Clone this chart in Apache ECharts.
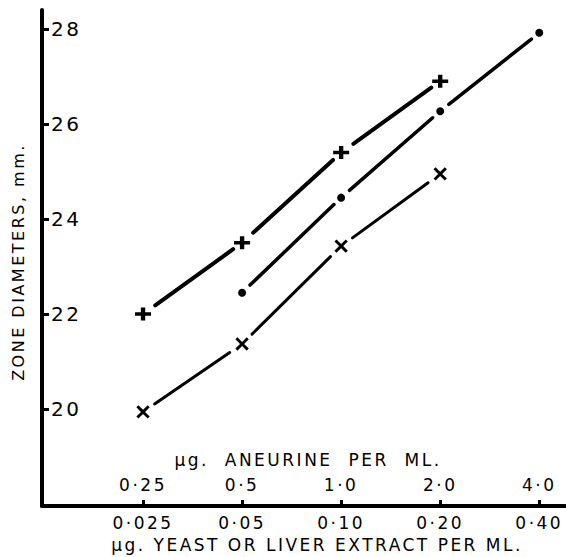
<!DOCTYPE html>
<html>
<head>
<meta charset="utf-8">
<script src="https://cdn.jsdelivr.net/npm/echarts@6/dist/echarts.min.js"></script>
<style>
  html, body { margin: 0; padding: 0; background: #fff; }
  #chart { width: 566px; height: 557px; }
  #chart svg text { letter-spacing: 2.5px; }
</style>
</head>
<body>
<div id="chart"></div>
<script>
// ---- data ----
const doseIndex = [0, 1, 2, 3, 4];
const yeastLabels = ['0·025', '0·05', '0·10', '0·20', '0·40'];
const aneurineLabels = ['0·25', '0·5', '1·0', '2·0', '4·0'];
const yTicks = [20, 22, 24, 26, 28];

const plusX = [0, 1, 2, 3];
const plusY = [22.0, 23.5, 25.4, 26.9];
const dotX = [1, 2, 3, 4];
const dotY = [22.45, 24.45, 26.27, 27.92];
const crossX = [0, 1, 2, 3];
const crossY = [19.94, 21.37, 23.43, 24.95];

const yName = 'ZONE DIAMETERS, mm.';
const xTopName = 'μg.  ANEURINE  PER  ML.';
const xBottomName = 'μg. YEAST OR LIVER EXTRACT PER ML.';

// ---- chart ----
const FONT = 'DejaVu Sans';
const pairs = (xs, ys) => xs.map((x, i) => [x, ys[i]]);
const plusPath = 'path://M4,0H7V4H11V7H7V11H4V7H0V4H4Z';
const thinPlusPath = 'path://M4.5,0H6.5V4.5H11V6.5H6.5V11H4.5V6.5H0V4.5H4.5Z';

// line drawn as segments between consecutive points, broken short of each marker
function brokenLine(xs, ys, lineWidth, gapStart, gapEnd) {
  return {
    type: 'custom', data: pairs(xs, ys), z: 2, silent: true,
    renderItem: function (params, api) {
      const i = params.dataIndex;
      if (i === 0) return null;
      const a = api.coord([xs[i - 1], ys[i - 1]]);
      const b = api.coord([api.value(0), api.value(1)]);
      const dx = b[0] - a[0], dy = b[1] - a[1];
      const len = Math.sqrt(dx * dx + dy * dy);
      const ux = dx / len, uy = dy / len;
      return {
        type: 'line',
        shape: { x1: a[0] + ux * gapStart, y1: a[1] + uy * gapStart,
                 x2: b[0] - ux * gapEnd, y2: b[1] - uy * gapEnd },
        style: { stroke: '#000', lineWidth: lineWidth, lineCap: 'round' }
      };
    }
  };
}

function markers(xs, ys, symbol, symbolSize, symbolRotate) {
  return { type: 'scatter', data: pairs(xs, ys), symbol: symbol, symbolSize: symbolSize,
    symbolRotate: symbolRotate || 0, z: 4, itemStyle: { color: '#000', opacity: 1 } };
}

const chart = echarts.init(document.getElementById('chart'), null, { renderer: 'svg' });
chart.setOption({
  animation: false,
  backgroundColor: '#fff',
  grid: { left: 42, right: 1, top: 10, bottom: 51, containLabel: false },
  xAxis: [
    {
      type: 'value', min: -1.02, max: 4.26, position: 'bottom',
      splitLine: { show: false },
      axisLine: { show: true, onZero: false, lineStyle: { color: '#000', width: 4 } },
      axisTick: { show: true, inside: true, length: 6, customValues: doseIndex,
        lineStyle: { color: '#000', width: 3 } },
      axisLabel: { customValues: doseIndex, margin: 8, fontSize: 17, fontFamily: FONT, color: '#000',
        formatter: v => yeastLabels[Math.round(v)] }
    },
    {
      type: 'value', min: -1.02, max: 4.26, position: 'bottom',
      splitLine: { show: false },
      axisLine: { show: false, onZero: false },
      axisTick: { show: false },
      axisLabel: { inside: true, customValues: doseIndex, margin: 13, fontSize: 17, fontFamily: FONT, color: '#000',
        formatter: v => aneurineLabels[Math.round(v)] }
    }
  ],
  yAxis: {
    type: 'value', min: 17.96, max: 28.4, position: 'left',
    splitLine: { show: false },
    axisLine: { show: true, onZero: false, lineStyle: { color: '#000', width: 4 } },
    axisTick: { show: true, inside: true, length: 7, customValues: yTicks,
      lineStyle: { color: '#000', width: 3 } },
    axisLabel: { inside: true, customValues: yTicks, margin: 9, fontSize: 20, fontFamily: FONT, color: '#000' }
  },
  graphic: [
    { type: 'text', x: 18, y: 262, rotation: Math.PI / 2,
      style: { text: yName, font: '16px "DejaVu Sans"', fill: '#000', align: 'center', verticalAlign: 'middle' } },
    { type: 'text', x: 308, y: 460,
      style: { text: xTopName, font: '17px "DejaVu Sans"', fill: '#000', align: 'center', verticalAlign: 'middle' } },
    { type: 'text', x: 317, y: 545,
      style: { text: xBottomName, font: '17px "DejaVu Sans"', fill: '#000', align: 'center', verticalAlign: 'middle' } }
  ],
  series: [
    brokenLine(plusX, plusY, 4, 15, 11),
    brokenLine(dotX, dotY, 3.5, 11, 10),
    brokenLine(crossX, crossY, 3, 14, 15),
    markers(plusX, plusY, plusPath, [16, 13]),
    markers(dotX, dotY, 'circle', 8),
    markers(crossX, crossY, thinPlusPath, 16, 45)
  ]
});
</script>
</body>
</html>
